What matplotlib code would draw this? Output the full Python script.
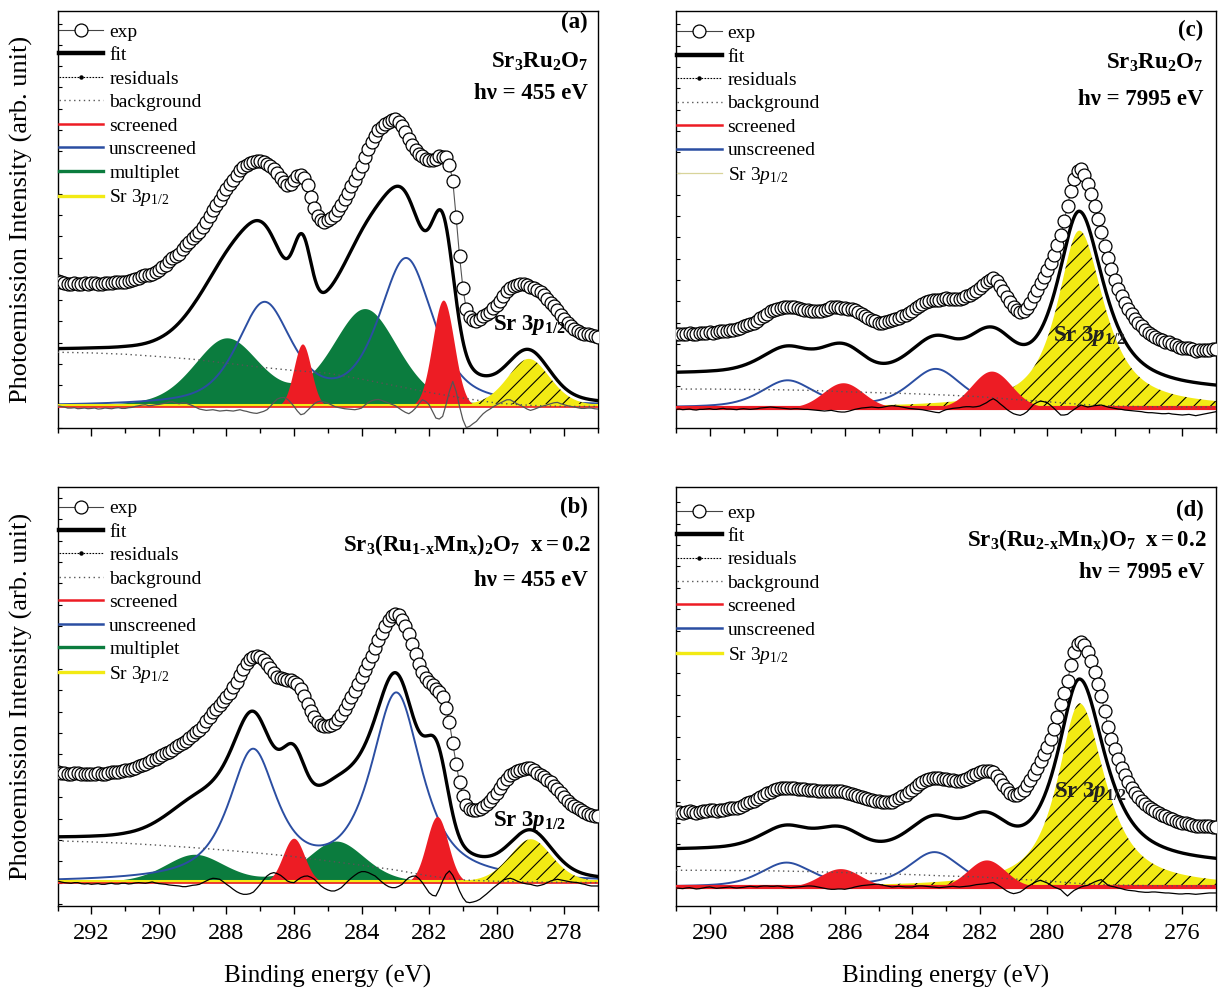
import numpy as np
import matplotlib
matplotlib.use('Agg')
import matplotlib.pyplot as plt
from matplotlib.lines import Line2D
from matplotlib.ticker import MultipleLocator

plt.rcParams['font.family'] = ['Liberation Serif', 'DejaVu Serif']
plt.rcParams['mathtext.fontset'] = 'custom'
plt.rcParams['mathtext.rm'] = 'Liberation Serif'
plt.rcParams['mathtext.it'] = 'Liberation Serif:italic'
plt.rcParams['mathtext.bf'] = 'Liberation Serif:bold'
plt.rcParams['mathtext.bfit'] = 'Liberation Serif:italic:bold'
plt.rcParams['hatch.linewidth'] = 0.8
plt.rcParams['hatch.color'] = 'black'

RED = '#ed1c24'
BLUE = '#2b4ea2'
GREEN = '#0b7c3e'
YELLOW = '#f2ea14'

# peak parameters: (centre eV, height, fwhm high-BE side, fwhm low-BE side, lorentz fraction)
a_screened = [(285.75, 1.88, 0.6, 0.6, 0.0), (281.58, 3.2, 0.75, 0.75, 0.0)]
a_unscreened = [(286.88, 3.02, 1.9, 1.9, 0.6), (282.68, 4.38, 1.9, 1.9, 0.6)]
a_multiplet = [(288.0, 2.0, 2.3, 2.3, 0.3), (283.9, 2.9, 2.3, 2.3, 0.3)]
a_sr = [(279.05, 1.43, 1.5, 1.5, 0.3)]

b_screened = [(286.01, 1.33, 0.75, 0.75, 0.0), (281.76, 1.98, 0.75, 0.75, 0.0)]
b_unscreened = [(287.22, 3.82, 1.7, 1.7, 0.8), (282.97, 5.58, 1.8, 1.8, 0.8)]
b_multiplet = [(288.95, 0.83, 2.1, 2.1, 0.3), (284.75, 1.23, 2.0, 2.0, 0.3)]
b_sr = [(278.99, 1.3, 1.5, 1.5, 0.3)]

c_screened = [(286.05, 0.75, 1.38, 1.38, 0.0), (281.65, 1.1, 1.38, 1.38, 0.0)]
c_unscreened = [(287.7, 0.8, 1.83, 1.83, 0.5), (283.3, 1.15, 1.83, 1.83, 0.5)]
c_sr = [(279.05, 5.32, 1.55, 1.75, 0.85)]

d_screened = [(286.13, 0.55, 1.4, 1.4, 0.0), (281.8, 0.81, 1.3, 1.3, 0.0)]
d_unscreened = [(287.73, 0.71, 1.8, 1.8, 0.5), (283.34, 1.03, 1.8, 1.8, 0.5)]
d_sr = [(279.04, 5.5, 1.55, 1.8, 0.85)]

# background, read every 1 eV
left_bg_e = [293, 292, 291, 290, 289, 288, 287, 286, 285, 284, 283, 282, 281, 280, 279, 278, 277]
right_bg_e = [291, 290, 289, 288, 287, 286, 285, 284, 283, 282, 281, 280, 279, 278, 277, 276, 275]
a_bg = [1.63, 1.61, 1.57, 1.50, 1.42, 1.30, 1.18, 1.08, 1.00, 0.82, 0.62, 0.42, 0.25, 0.10, 0.03, 0.0, 0.0]
b_bg = [1.25, 1.22, 1.18, 1.12, 1.05, 0.97, 0.88, 0.78, 0.65, 0.52, 0.38, 0.20, 0.08, 0.04, 0.02, 0.01, 0.0]
c_bg = [0.56, 0.56, 0.55, 0.54, 0.52, 0.48, 0.45, 0.42, 0.38, 0.33, 0.25, 0.18, 0.10, 0.05, 0.03, 0.02, 0.02]
d_bg = [0.50, 0.50, 0.49, 0.48, 0.46, 0.43, 0.40, 0.37, 0.33, 0.30, 0.24, 0.18, 0.10, 0.06, 0.04, 0.03, 0.03]

# residuals (exp - fit), one value every 0.1 eV starting at the left edge
a_resid = [0.02, 0.00, -0.02, -0.05, -0.05, -0.04, -0.07, -0.06, -0.05, -0.07,
           -0.06, -0.05, -0.08, -0.07, -0.05, -0.06, -0.07, -0.05, -0.04, -0.06,
           -0.06, -0.04, -0.03, 0.00, 0.02, 0.04, 0.05, 0.02, 0.03, 0.05,
           0.06, 0.08, 0.10, 0.13, 0.14, 0.10, 0.08, 0.11, 0.10, 0.06,
           0.02, -0.03, -0.08, -0.10, -0.12, -0.11, -0.10, -0.12, -0.14, -0.13,
           -0.12, -0.13, -0.14, -0.12, -0.10, -0.13, -0.15, -0.18, -0.20, -0.21,
           -0.18, -0.15, -0.10, 0.00, 0.12, 0.22, 0.26, 0.27, 0.22, 0.12,
           0.00, -0.14, -0.25, -0.22, -0.12, -0.02, 0.08, 0.14, 0.16, 0.13,
           0.10, 0.05, 0.00, -0.03, -0.05, -0.07, -0.08, -0.09, -0.10, -0.08,
           -0.05, 0.04, 0.12, 0.17, 0.20, 0.21, 0.18, 0.14, 0.10, 0.06,
           0.02, -0.05, -0.12, -0.18, -0.22, -0.15, -0.05, 0.08, 0.20, 0.15,
           0.05, -0.15, -0.35, -0.38, -0.30, 0.05, 0.45, 0.75, 0.45, 0.00,
           -0.40, -0.64, -0.60, -0.52, -0.45, -0.33, -0.22, -0.14, -0.08, -0.01,
           0.05, 0.10, 0.15, 0.20, 0.20, 0.14, 0.08, 0.03, -0.02, -0.08,
           -0.12, -0.09, -0.05, -0.01, 0.02, 0.05, 0.08, 0.11, 0.12, 0.08,
           0.05, 0.02, 0.00, -0.02, -0.04, -0.06, -0.06, -0.05, -0.05, -0.07,
           -0.08]
b_resid = [0.05, 0.02, 0.00, -0.01, -0.02, 0.00, 0.00, -0.03, -0.04, -0.03,
           -0.05, -0.04, -0.03, -0.05, -0.05, -0.03, -0.02, -0.04, -0.04, -0.02,
           -0.02, -0.04, -0.03, -0.01, 0.00, -0.01, -0.02, 0.00, 0.02, -0.01,
           -0.03, -0.04, -0.05, -0.07, -0.08, -0.09, -0.10, -0.12, -0.12, -0.10,
           -0.08, -0.07, -0.05, 0.00, 0.05, 0.10, 0.13, 0.12, 0.10, 0.03,
           -0.05, -0.12, -0.20, -0.27, -0.32, -0.35, -0.35, -0.33, -0.28, -0.17,
           -0.05, 0.08, 0.20, 0.27, 0.30, 0.27, 0.22, 0.14, 0.05, 0.01,
           0.00, 0.08, 0.15, 0.19, 0.20, 0.16, 0.10, 0.00, -0.10, -0.17,
           -0.22, -0.25, -0.25, -0.21, -0.15, -0.05, 0.05, 0.14, 0.22, 0.29,
           0.33, 0.33, 0.30, 0.25, 0.20, 0.11, 0.02, -0.06, -0.12, -0.15,
           -0.15, -0.11, -0.05, 0.06, 0.15, 0.19, 0.20, 0.12, 0.00, -0.15,
           -0.30, -0.38, -0.40, -0.20, 0.05, 0.25, 0.35, 0.22, 0.00, -0.25,
           -0.45, -0.58, -0.60, -0.58, -0.55, -0.50, -0.42, -0.34, -0.25, -0.16,
           -0.08, 0.00, 0.08, 0.11, 0.13, 0.10, 0.05, 0.01, -0.02, -0.04,
           -0.05, -0.08, -0.10, -0.08, -0.05, 0.00, 0.05, 0.08, 0.10, 0.08,
           0.06, 0.04, 0.02, 0.01, 0.00, -0.03, -0.05, -0.08, -0.10, -0.10,
           -0.10]
c_resid = [-0.05, -0.04, -0.06, -0.05, -0.04, -0.06, -0.07, -0.05, -0.05, -0.04,
           -0.03, -0.05, -0.05, -0.03, -0.02, -0.04, -0.04, -0.05, -0.06, -0.04,
           -0.03, -0.04, -0.05, -0.04, -0.03, -0.01, 0.00, 0.01, 0.02, 0.01,
           0.00, -0.01, -0.02, -0.03, -0.04, -0.03, -0.03, -0.04, -0.05, -0.05,
           -0.06, -0.07, -0.08, -0.09, -0.10, -0.09, -0.08, -0.10, -0.12, -0.13,
           -0.13, -0.11, -0.08, -0.05, -0.03, -0.01, 0.00, 0.01, 0.02, 0.01,
           0.00, 0.01, 0.03, 0.05, 0.06, 0.05, 0.04, 0.02, 0.00, -0.02,
           -0.03, -0.04, -0.05, -0.06, -0.08, -0.10, -0.12, -0.14, -0.15, -0.10,
           -0.06, -0.04, -0.02, -0.01, 0.00, 0.02, 0.03, 0.03, 0.02, 0.03,
           0.05, 0.10, 0.15, 0.22, 0.27, 0.21, 0.12, 0.04, -0.05, -0.12,
           -0.18, -0.21, -0.23, -0.19, -0.12, -0.01, 0.10, 0.16, 0.20, 0.18,
           0.15, 0.07, -0.02, -0.12, -0.22, -0.22, -0.20, -0.12, -0.05, 0.02,
           0.08, 0.05, 0.02, 0.04, 0.06, 0.07, 0.08, 0.05, 0.02, 0.00,
           -0.02, -0.04, -0.05, -0.07, -0.08, -0.09, -0.10, -0.11, -0.12, -0.14,
           -0.15, -0.15, -0.16, -0.17, -0.18, -0.18, -0.17, -0.19, -0.20, -0.21,
           -0.22, -0.21, -0.20, -0.22, -0.24, -0.22, -0.20, -0.18, -0.16, -0.14,
           -0.12]
d_resid = [-0.03, -0.04, -0.05, -0.03, -0.02, -0.04, -0.06, -0.05, -0.03, -0.01,
           0.00, -0.02, -0.04, -0.03, -0.02, -0.01, 0.00, -0.02, -0.03, -0.02,
           -0.01, 0.01, 0.02, 0.01, 0.00, 0.02, 0.03, 0.03, 0.02, 0.02,
           0.03, 0.02, 0.00, -0.01, -0.02, -0.01, 0.00, 0.01, 0.02, 0.03,
           0.03, 0.02, 0.00, -0.02, -0.04, -0.06, -0.07, -0.07, -0.06, -0.06,
           -0.07, -0.05, -0.03, 0.00, 0.02, 0.04, 0.05, 0.06, 0.07, 0.08,
           0.08, 0.06, 0.04, 0.02, 0.00, 0.01, 0.02, 0.01, 0.00, 0.00,
           0.00, 0.02, 0.03, 0.03, 0.02, 0.01, 0.00, -0.01, -0.02, -0.01,
           0.00, 0.01, 0.02, 0.01, 0.00, 0.01, 0.02, 0.03, 0.05, 0.07,
           0.08, 0.09, 0.10, 0.12, 0.13, 0.08, 0.02, -0.05, -0.12, -0.17,
           -0.20, -0.18, -0.15, -0.08, 0.00, 0.06, 0.12, 0.17, 0.20, 0.16,
           0.12, 0.06, 0.00, -0.04, -0.08, -0.18, -0.27, -0.18, -0.10, -0.05,
           0.00, 0.03, 0.05, 0.10, 0.15, 0.19, 0.22, 0.14, 0.05, 0.02,
           0.00, -0.03, -0.05, -0.08, -0.10, -0.11, -0.12, -0.14, -0.15, -0.16,
           -0.16, -0.15, -0.15, -0.16, -0.17, -0.18, -0.18, -0.19, -0.20, -0.21,
           -0.21, -0.20, -0.20, -0.21, -0.22, -0.21, -0.20, -0.19, -0.18, -0.18,
           -0.18]


def peaks(x, plist):
    out = np.zeros_like(x)
    for c, h, wl, wr, eta in plist:
        w = np.where(x >= c, wl, wr)
        d = 2 * (x - c) / w
        out += h * (eta / (1 + d ** 2) + (1 - eta) * np.exp(-np.log(2) * d ** 2))
    return out


def fit_curve(x, bg_e, bg, comps, shift):
    total = np.interp(x, bg_e[::-1], bg[::-1])
    for plist in comps:
        total = total + peaks(x, plist)
    return total + shift


def panel(ax, xlim, bg_e, bg, scr, uns, mult, sr, resid, fit_shift, exp_shift,
          ylim, res_color, thick_red):
    x = np.linspace(xlim[0], xlim[1], 1600)
    grid = np.round(xlim[0] - 0.1 * np.arange(len(resid)), 1)
    if mult is not None:
        ax.fill_between(x, 0, peaks(x, mult), color=GREEN, lw=0, zorder=1)
    ax.plot(x, peaks(x, uns), color=BLUE, lw=1.4, zorder=2)
    ax.fill_between(x, 0, peaks(x, sr), facecolor=YELLOW, edgecolor='black', lw=0,
                    hatch='//', zorder=2.5)
    ax.fill_between(x, 0, peaks(x, scr), color=RED, lw=0, zorder=3)
    if thick_red:
        ax.axhline(0, color=RED, lw=3.0, zorder=3.1)
    else:
        ax.axhline(0.05, color=YELLOW, lw=2.2, zorder=3.1)
        ax.axhline(-0.01, color=RED, lw=1.2, zorder=3.2)
    ax.plot(bg_e, bg, color='#555555', lw=1.0, ls=(0, (1, 2.5)), zorder=4)
    ax.plot(grid, resid, color=res_color, lw=0.9, zorder=5)
    comps = [p for p in (scr, uns, mult, sr) if p is not None]
    ax.plot(x, fit_curve(x, bg_e, bg, comps, fit_shift), color='black', lw=2.4, zorder=6)
    exp_y = fit_curve(grid, bg_e, bg, comps, fit_shift) + exp_shift + np.array(resid)
    ax.plot(grid, exp_y, color='#555555', lw=0.8, marker='o', ms=9.3, mfc='white',
            mec='black', mew=0.9, zorder=7)

    ax.set_xlim(xlim)
    ax.set_ylim(ylim)
    ax.xaxis.set_major_locator(MultipleLocator(2))
    ax.xaxis.set_minor_locator(MultipleLocator(1))
    ax.yaxis.set_major_locator(MultipleLocator(0.64))
    ax.tick_params(axis='x', which='major', direction='out', length=6, width=1.0,
                   labelsize=17.5, pad=6, top=False)
    ax.tick_params(axis='x', which='minor', direction='out', length=3.5, width=1.0, top=False)
    ax.tick_params(axis='y', which='major', direction='in', length=3, width=0.8,
                   left=True, right=False, labelleft=False)
    for s in ax.spines.values():
        s.set_linewidth(1.0)


def legend(ax, with_mult, sr_handle, y0):
    h = [Line2D([], [], color='#444444', lw=0.8, marker='o', ms=9.3, mfc='white',
                mec='black', mew=0.9),
         Line2D([], [], color='black', lw=3.2),
         Line2D([], [], color='black', lw=0.8, ls=(0, (1.5, 1.2)), marker='o', ms=2.2),
         Line2D([], [], color='#555555', lw=1.0, ls=(0, (1, 2.5))),
         Line2D([], [], color=RED, lw=1.8),
         Line2D([], [], color=BLUE, lw=1.8)]
    labels = ['exp', 'fit', 'residuals', 'background', 'screened', 'unscreened']
    if with_mult:
        h.append(Line2D([], [], color=GREEN, lw=2.4))
        labels.append('multiplet')
    h.append(sr_handle)
    labels.append(r'Sr 3$p_{\mathrm{1/2}}$')
    ax.legend(h, labels, loc='upper left', bbox_to_anchor=(0.0, y0), frameon=False,
              fontsize=14, handlelength=2.3, handletextpad=0.3, labelspacing=0.3,
              borderpad=0.05, borderaxespad=0.0)


fig = plt.figure(figsize=(12.18, 9.92), dpi=100)
ax_a = fig.add_axes([57.6 / 1218, 1 - 428 / 992, 540.4 / 1218, 417 / 992])
ax_c = fig.add_axes([676 / 1218, 1 - 428 / 992, 540 / 1218, 417 / 992])
ax_b = fig.add_axes([57.6 / 1218, 1 - 906 / 992, 540.4 / 1218, 419 / 992])
ax_d = fig.add_axes([676 / 1218, 1 - 906 / 992, 540 / 1218, 419 / 992])

panel(ax_a, (293, 277), left_bg_e, a_bg, a_screened, a_unscreened, a_multiplet, a_sr,
      a_resid, 0.0, 2.0, (-0.65, 11.9), '#555555', False)
panel(ax_b, (293, 277), left_bg_e, b_bg, b_screened, b_unscreened, b_multiplet, b_sr,
      b_resid, 0.0, 1.9, (-0.70, 11.85), 'black', False)
panel(ax_c, (291, 275), right_bg_e, c_bg, c_screened, c_unscreened, None, c_sr,
      c_resid, 0.45, 1.2, (-0.61, 11.92), 'black', True)
panel(ax_d, (291, 275), right_bg_e, d_bg, d_screened, d_unscreened, None, d_sr,
      d_resid, 0.6, 1.12, (-0.57, 11.98), 'black', True)

for ax in (ax_a, ax_c):
    ax.tick_params(axis='x', labelbottom=False)

sr_thick = Line2D([], [], color=YELLOW, lw=2.4)
legend(ax_a, True, sr_thick, 0.973)
legend(ax_b, True, sr_thick, 0.972)
legend(ax_c, False, Line2D([], [], color='#d8d49a', lw=0.9), 0.970)
legend(ax_d, False, Line2D([], [], color=YELLOW, lw=2.4), 0.962)

bold = dict(fontsize=16.5, fontweight='bold', ha='right', va='center')
ax_a.text(0.981, 0.972, '(a)', transform=ax_a.transAxes, **bold)
ax_a.text(0.981, 0.878, r'$\mathbf{Sr_3Ru_2O_7}$', transform=ax_a.transAxes, **bold)
ax_a.text(0.981, 0.803, 'hν = 455 eV', transform=ax_a.transAxes, **bold)

ax_b.text(0.981, 0.952, '(b)', transform=ax_b.transAxes, **bold)
ax_b.text(0.988, 0.862, r'$\mathbf{Sr_3(Ru_{1‐x}Mn_x)_2O_7\ \ x = 0.2}$',
          transform=ax_b.transAxes, **bold)
ax_b.text(0.981, 0.778, 'hν = 455 eV', transform=ax_b.transAxes, **bold)

ax_c.text(0.976, 0.954, '(c)', transform=ax_c.transAxes, **bold)
ax_c.text(0.976, 0.876, r'$\mathbf{Sr_3Ru_2O_7}$', transform=ax_c.transAxes, **bold)
ax_c.text(0.976, 0.787, 'hν = 7995 eV', transform=ax_c.transAxes, **bold)

ax_d.text(0.978, 0.945, '(d)', transform=ax_d.transAxes, **bold)
ax_d.text(0.983, 0.874, r'$\mathbf{Sr_3(Ru_{2‐x}Mn_x)O_7\ \ x = 0.2}$',
          transform=ax_d.transAxes, **bold)
ax_d.text(0.978, 0.797, 'hν = 7995 eV', transform=ax_d.transAxes, **bold)

sr_label = r'$\mathbf{Sr\ 3}\mathbfit{p}_{\mathbf{1/2}}$'
ax_a.text(280.1, 2.29, sr_label, fontsize=16.5, va='baseline', ha='left', zorder=8)
ax_b.text(280.1, 1.70, sr_label, fontsize=16.5, va='baseline', ha='left', zorder=8)
ax_c.text(279.84, 2.0, sr_label, fontsize=16.5, va='baseline', ha='left', color='#222222', zorder=8)
ax_d.text(279.81, 2.68, sr_label, fontsize=16.5, va='baseline', ha='left', color='#222222', zorder=8)

for ax in (ax_a, ax_b):
    ax.set_ylabel('Photoemission Intensity (arb. unit)', fontsize=19, va='center')
    ax.yaxis.set_label_coords(-0.066, 0.5)
for ax in (ax_b, ax_d):
    ax.set_xlabel('Binding energy (eV)', fontsize=18, va='center')
    ax.xaxis.set_label_coords(0.5, -0.169)

fig.savefig('out.png', dpi=100)
